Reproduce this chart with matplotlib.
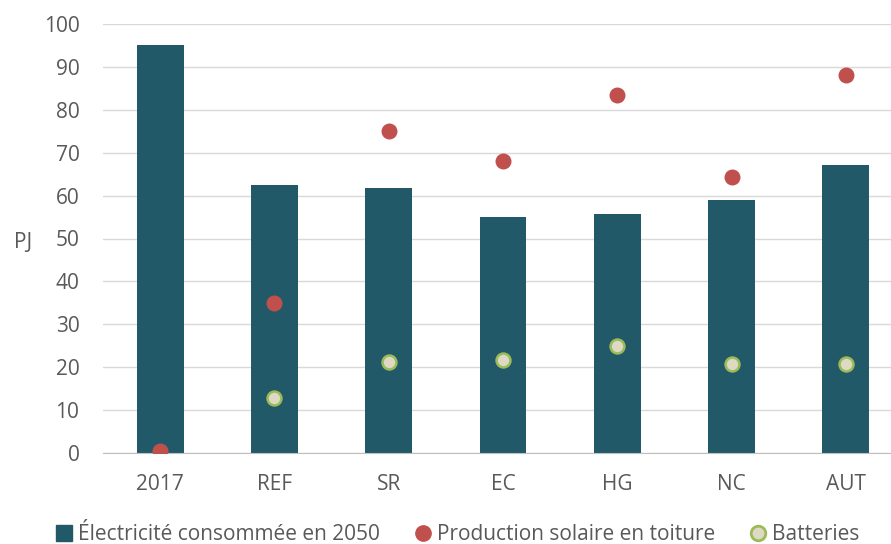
import numpy as np
import matplotlib.pyplot as plt
from matplotlib.lines import Line2D

plt.rcParams['font.family'] = ['Open Sans', 'DejaVu Sans']

scenarios = ["2017", "REF", "SR", "EC", "HG", "NC", "AUT"]
elec_2050 = [95.1, 62.5, 61.8, 55.0, 55.7, 59.0, 67.1]
solaire = [0.5, 35.0, 75.1, 68.1, 83.4, 64.3, 88.1]
batteries = [np.nan, 12.8, 21.2, 21.7, 24.9, 20.7, 20.7]

txt = "#595959"
fig = plt.figure(figsize=(8.91, 5.44), dpi=100)
ax = fig.add_axes([103 / 891, 91 / 544, 800 / 891, 429 / 544])

x = np.arange(len(scenarios))
ax.bar(x, elec_2050, width=0.41, color="#215968", zorder=2)
ax.scatter(x, solaire, s=110, color="#C0504D", zorder=3)
ax.scatter(x, batteries, s=100, color="#DDD9C3", edgecolors="#9BBB59", linewidths=1.8, zorder=3)

ax.set_xlim(-0.5, 6.5)
ax.set_ylim(0, 100)
ax.set_yticks(range(0, 101, 10))
ax.set_xticks(x)
ax.set_xticklabels(scenarios)
ax.grid(axis="y", color="#D9D9D9", linewidth=1, zorder=0)
for s in ["top", "right", "left"]:
    ax.spines[s].set_visible(False)
ax.spines["bottom"].set_color("#BFBFBF")
ax.tick_params(length=0, labelsize=15, colors=txt)
ax.tick_params(axis="x", pad=15)
ax.tick_params(axis="y", pad=17)
ax.set_ylabel("PJ", rotation=0, fontsize=15, color=txt, va="center")
ax.yaxis.set_label_coords(-0.1, 0.49)

# legende : trois entrees placees separement, comme dans Excel
handles = [
    Line2D([], [], marker="s", linestyle="", markersize=11, color="#215968", label="Électricité consommée en 2050"),
    Line2D([], [], marker="o", linestyle="", markersize=11, color="#C0504D", label="Production solaire en toiture"),
    Line2D([], [], marker="o", linestyle="", markersize=10.5, markerfacecolor="#DDD9C3",
           markeredgecolor="#9BBB59", markeredgewidth=2, label="Batteries"),
]
lefts = [57 / 891, 416 / 891, 751 / 891]
for h, xl in zip(handles, lefts):
    fig.legend(handles=[h], loc="center left", bbox_to_anchor=(xl, 9 / 544), frameon=False,
               fontsize=15, labelcolor=txt, handlelength=0.7, handletextpad=0.3,
               borderpad=0, borderaxespad=0)

fig.savefig("out.png", dpi=100)
